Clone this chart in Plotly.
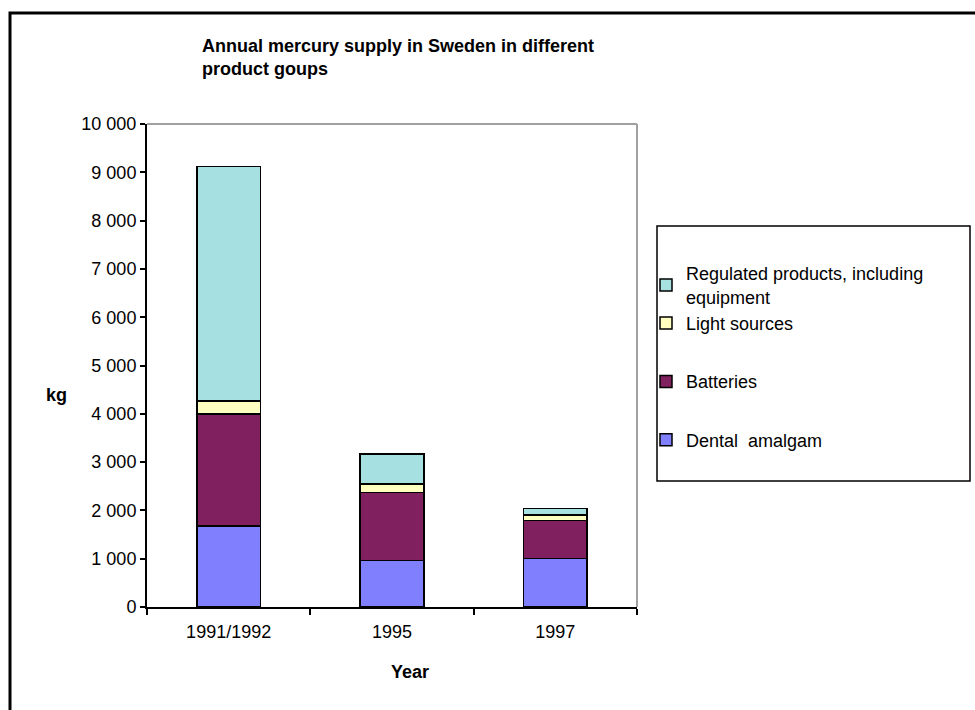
import plotly.graph_objects as go

years = ["1991/1992", "1995", "1997"]
dental = [1680, 960, 1000]
batteries = [2320, 1415, 790]
light = [270, 175, 120]
regulated = [4855, 620, 130]

names = ["Dental  amalgam", "Batteries", "Light sources", "Regulated products, including<br>equipment"]
colors = ["#8080FF", "#80205E", "#FFFFC0", "#A6E0E0"]
groups = ["c", "b", "a", "a"]
ranks = [4, 3, 2, 1]
series = [dental, batteries, light, regulated]

FONT = "Liberation Sans, Arial, sans-serif"
FS = 18

fig = go.Figure()
for vals, name, col, g, rk in zip(series, names, colors, groups, ranks):
    fig.add_trace(go.Bar(
        x=years, y=vals, name=name, legendgroup=g, legendrank=rk,
        marker=dict(color=col, line=dict(color="black", width=1.5)),
    ))

L, R, T, B = 147, 338, 124, 103
W, H = 975, 710
pw, ph = W - L - R, H - T - B

def px(x):
    return (x - L) / pw

def py(y):
    return (H - B - y) / ph

fig.update_layout(
    width=W, height=H,
    margin=dict(l=L, r=R, t=T, b=B, pad=0),
    barmode="stack", bargap=0.61,
    plot_bgcolor="white", paper_bgcolor="white",
    font=dict(family=FONT, size=FS, color="black"),
    separators=". ",
    title=dict(
        text="<b>Annual mercury supply in Sweden in different<br>product goups</b>",
        x=px(202), xref="paper", xanchor="left",
        y=1 - 52 / H, yref="container", yanchor="top",
        font=dict(size=18, family=FONT),
    ),
    xaxis=dict(
        showline=True, linecolor="black", linewidth=2,
        ticks="outside", tickson="boundaries", ticklen=6, tickwidth=1.5, tickcolor="black",
        showgrid=False, ticklabelstandoff=7,
    ),
    yaxis=dict(
        range=[0, 10000], dtick=1000, tickformat=",d",
        showline=True, linecolor="black", linewidth=2,
        ticks="outside", ticklen=5, tickwidth=1.5, tickcolor="black",
        showgrid=False, zeroline=False,
    ),
    legend=dict(
        x=px(646), xanchor="left", y=py(255), yanchor="top",
        traceorder="grouped", tracegroupgap=32,
        bgcolor="rgba(0,0,0,0)", borderwidth=0,
        font=dict(size=FS, family=FONT), itemwidth=30,
    ),
    showlegend=True,
)

shapes = [
    dict(type="rect", xref="paper", yref="paper", x0=px(10), x1=px(990), y0=py(730), y1=py(13),
         line=dict(color="black", width=3), fillcolor="rgba(0,0,0,0)", layer="below"),
    dict(type="line", xref="paper", yref="paper", x0=0, x1=1, y0=1, y1=1,
         line=dict(color="#A0A0A0", width=2)),
    dict(type="line", xref="paper", yref="paper", x0=1, x1=1, y0=0, y1=1,
         line=dict(color="#A0A0A0", width=2)),
    dict(type="rect", xref="paper", yref="paper", x0=px(657), x1=px(970), y0=py(481), y1=py(226),
         line=dict(color="black", width=1.5), fillcolor="rgba(0,0,0,0)"),
]
fig.update_layout(shapes=shapes)

fig.add_annotation(text="<b>kg</b>", x=px(56), y=py(395), xref="paper", yref="paper",
                   xanchor="center", yanchor="middle",
                   showarrow=False, font=dict(size=FS, family=FONT))
fig.add_annotation(text="<b>Year</b>", x=px(410), y=py(672), xref="paper", yref="paper",
                   xanchor="center", yanchor="middle",
                   showarrow=False, font=dict(size=FS, family=FONT))

fig.write_html("out.html")
